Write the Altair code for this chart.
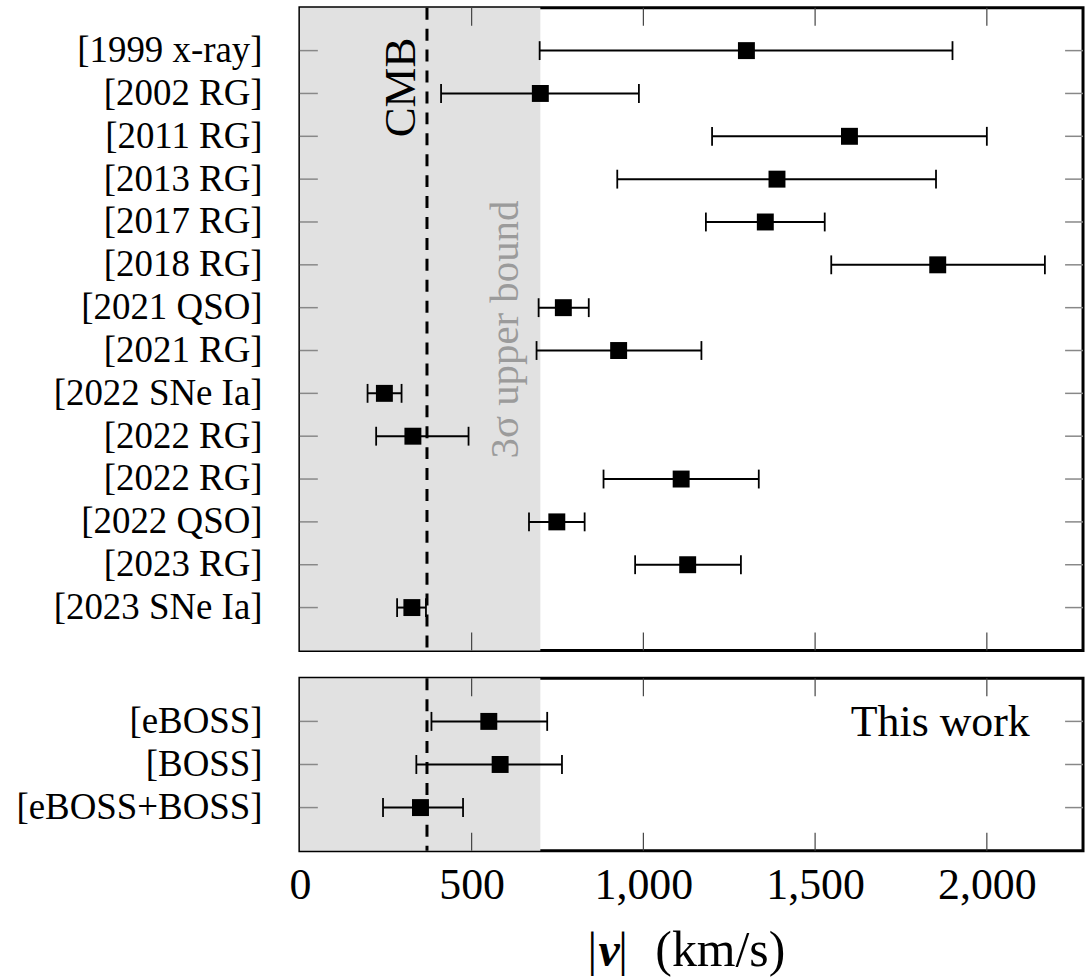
import json
import altair as alt
import pandas as pd

# ---------------- data ----------------
labels_top = ["[1999 x-ray]", "[2002 RG]", "[2011 RG]", "[2013 RG]", "[2017 RG]",
              "[2018 RG]", "[2021 QSO]", "[2021 RG]", "[2022 SNe Ia]", "[2022 RG]",
              "[2022 RG]", "[2022 QSO]", "[2023 RG]", "[2023 SNe Ia]"]
v_top = [1300, 700, 1600, 1389, 1355, 1857, 767, 928, 246, 329, 1110, 748, 1129, 326]
lo_top = [698, 411, 1200, 924, 1182, 1547, 695, 689, 197, 222, 884, 667, 976, 283]
hi_top = [1900, 987, 2000, 1852, 1528, 2169, 841, 1169, 296, 491, 1336, 829, 1284, 367]

labels_bot = ["[eBOSS]", "[BOSS]", "[eBOSS+BOSS]"]
v_bot = [550, 583, 351]
lo_bot = [383, 339, 242]
hi_bot = [720, 763, 475]

x_tick_values = [0, 500, 1000, 1500, 2000]
X_MAX = 2280
CMB = 370
UPPER_3SIGMA = 700

# ---------------- style ----------------
FONT = "Liberation Serif"
W = 786
H_TOP = 645
H_BOT = 173
CAP = 0.22
TICK_PX = 18


def panel(labels, v, lo, hi, height, bottom):
    n = len(labels)
    rows = list(range(1, n + 1))
    ymax = n + 1
    px_per_unit = height / ymax
    tick_y = TICK_PX / px_per_unit
    tick_x = TICK_PX * X_MAX / W

    df = pd.DataFrame({"row": rows, "label": labels, "v": v, "lo": lo, "hi": hi})
    df["cap_lo"] = df["row"] - CAP
    df["cap_hi"] = df["row"] + CAP
    df["tl0"] = 0.0
    df["tl1"] = tick_x
    df["tr0"] = X_MAX - tick_x
    df["tr1"] = float(X_MAX)

    xs = alt.Scale(domain=[0, X_MAX], nice=False, zero=False)
    ys = alt.Scale(domain=[0, ymax], reverse=True, nice=False, zero=False)

    label_expr = "[" + ",".join(['""'] + [json.dumps(l) for l in labels]) + "][datum.value]"
    yaxis = alt.Axis(values=rows, labelExpr=label_expr, ticks=False, domain=False,
                     grid=False, labelPadding=38, labelFont=FONT, labelFontSize=37,
                     labelColor="black", labelOverlap=False, labelLimit=600, title=None)
    if bottom:
        xaxis = alt.Axis(values=x_tick_values, format=",.0f", ticks=False, domain=False,
                         grid=False, labelPadding=13, labelFont=FONT, labelFontSize=44,
                         labelColor="black", labelFlush=False, labelOverlap=False,
                         title=None)
    else:
        xaxis = None

    def X(f):
        return alt.X(f"{f}:Q", scale=xs, axis=xaxis)

    def Y(f):
        return alt.Y(f"{f}:Q", scale=ys, axis=yaxis)

    band = alt.Chart(pd.DataFrame({"a": [0], "b": [UPPER_3SIGMA]})).mark_rect(
        color="#e1e1e1").encode(x=X("a"), x2=alt.X2("b"))

    cmb = alt.Chart(pd.DataFrame({"c": [CMB]})).mark_rule(
        color="black", strokeWidth=3, strokeDash=[12, 9]).encode(x=X("c"))

    base = alt.Chart(df)
    ytl = base.mark_rule(color="#888888", strokeWidth=1.5).encode(
        x=X("tl0"), x2=alt.X2("tl1"), y=Y("row"))
    ytr = base.mark_rule(color="#888888", strokeWidth=1.5).encode(
        x=X("tr0"), x2=alt.X2("tr1"), y=Y("row"))

    xt = pd.DataFrame({"x": [500, 1000, 1500, 2000]})
    xt["t0"] = 0.0
    xt["t1"] = tick_y
    xt["b0"] = ymax - tick_y
    xt["b1"] = float(ymax)
    xtc = alt.Chart(xt)
    xtt = xtc.mark_rule(color="#444444", strokeWidth=1.2).encode(
        x=X("x"), y=Y("t0"), y2=alt.Y2("t1"))
    xtb = xtc.mark_rule(color="#444444", strokeWidth=1.2).encode(
        x=X("x"), y=Y("b0"), y2=alt.Y2("b1"))

    bars = base.mark_rule(color="black", strokeWidth=2).encode(
        x=X("lo"), x2=alt.X2("hi"), y=Y("row"))
    cap_l = base.mark_rule(color="black", strokeWidth=1.8).encode(
        x=X("lo"), y=Y("cap_lo"), y2=alt.Y2("cap_hi"))
    cap_r = base.mark_rule(color="black", strokeWidth=1.8).encode(
        x=X("hi"), y=Y("cap_lo"), y2=alt.Y2("cap_hi"))
    pts = base.mark_square(size=289, color="black", opacity=1, filled=True).encode(
        x=X("v"), y=Y("row"))

    layers = [band, ytl, ytr, xtt, xtb, cmb, bars, cap_l, cap_r, pts]

    if not bottom:
        t1 = alt.Chart(pd.DataFrame({"x": [335], "y": [1.86], "t": ["CMB"]})).mark_text(
            angle=270, align="center", baseline="alphabetic", font=FONT, fontSize=45,
            color="black").encode(x=X("x"), y=Y("y"), text="t:N")
        t2 = alt.Chart(pd.DataFrame({"x": [636], "y": [7.51], "t": ["3σ upper bound"]})).mark_text(
            angle=270, align="center", baseline="alphabetic", font=FONT, fontSize=41,
            color="#9b9b9b").encode(x=X("x"), y=Y("y"), text="t:N")
        layers += [t1, t2]
    else:
        t3 = alt.Chart(pd.DataFrame({"x": [2125], "y": [1.35], "t": ["This work"]})).mark_text(
            align="right", baseline="alphabetic", font=FONT, fontSize=44,
            color="black").encode(x=X("x"), y=Y("y"), text="t:N")
        ty = 6.68
        title_df = pd.DataFrame({"x": [851, 941], "y": [ty, ty], "t": ["|", "|"]})
        tb = alt.Chart(title_df).mark_text(
            align="center", baseline="alphabetic", font=FONT, fontSize=48,
            color="black").encode(x=X("x"), y=Y("y"), text="t:N")
        tv = alt.Chart(pd.DataFrame({"x": [900], "y": [ty], "t": ["v"]})).mark_text(
            align="center", baseline="alphabetic", font=FONT, fontSize=48,
            fontWeight="bold", fontStyle="italic", color="black").encode(
            x=X("x"), y=Y("y"), text="t:N")
        tk = alt.Chart(pd.DataFrame({"x": [1224], "y": [ty], "t": ["(km/s)"]})).mark_text(
            align="center", baseline="alphabetic", font=FONT, fontSize=50,
            color="black").encode(x=X("x"), y=Y("y"), text="t:N")
        layers += [t3, tb, tv, tk]

    return alt.layer(*layers).properties(width=W, height=height)


top = panel(labels_top, v_top, lo_top, hi_top, H_TOP, bottom=False)
bot = panel(labels_bot, v_bot, lo_bot, hi_bot, H_BOT, bottom=True)

chart = alt.vconcat(top, bot, spacing=22).properties(
    padding={"left": 14, "top": 3, "right": 2, "bottom": 0},
    background="white",
).configure_view(stroke="black", strokeWidth=3)

chart.save("out.html", embed_options={"renderer": "svg", "actions": False})
